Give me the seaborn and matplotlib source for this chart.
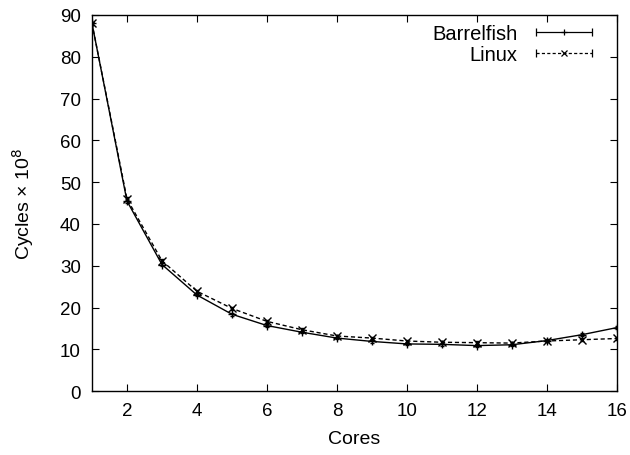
import matplotlib
matplotlib.use("Agg")
import matplotlib.pyplot as plt
from matplotlib.lines import Line2D
import seaborn as sns
import pandas as pd

# values (cycles x 10^8)
cores = list(range(1, 17))
barrelfish = [88.0, 45.5, 30.3, 23.0, 18.4, 15.7, 14.1, 12.7, 11.9, 11.3, 11.2, 10.9, 11.1, 12.1, 13.5, 15.2]
linux = [88.0, 46.0, 31.2, 23.9, 19.8, 16.7, 14.7, 13.2, 12.7, 12.0, 11.7, 11.6, 11.5, 12.0, 12.3, 12.6]
barrelfish_err = [0.4, 0.4, 0.3, 0.3, 0.3, 0.3, 0.3, 0.3, 0.3, 0.3, 0.3, 0.3, 0.3, 0.3, 0.3, 0.3]
linux_err = [0.4, 0.4, 0.3, 0.3, 0.3, 0.3, 0.3, 0.3, 0.3, 0.3, 0.3, 0.3, 0.3, 0.3, 0.3, 0.3]

df = pd.DataFrame({
    "Cores": cores * 2,
    "Cycles": barrelfish + linux,
    "OS": ["Barrelfish"] * 16 + ["Linux"] * 16,
})

sns.set_style("ticks")
plt.rcParams["font.family"] = ["Liberation Sans", "DejaVu Sans"]
plt.rcParams["xtick.direction"] = "in"
plt.rcParams["ytick.direction"] = "in"
for k in ["text.color", "axes.labelcolor", "xtick.color", "ytick.color", "axes.edgecolor"]:
    plt.rcParams[k] = "black"


class KeyHandler:
    # gnuplot-like key sample: |----marker----|
    def __init__(self, marker, dashes):
        self.marker = marker
        self.dashes = dashes

    def legend_artist(self, legend, orig_handle, fontsize, handlebox):
        x0, y0 = handlebox.xdescent, handlebox.ydescent
        w, h = handlebox.width, handlebox.height
        ym = y0 + h / 2
        ln = Line2D([x0, x0 + w], [ym, ym], color="black", lw=0.9)
        if self.dashes:
            ln.set_dashes(self.dashes)
        caps = Line2D([x0, x0 + w], [ym, ym], ls="none", marker="|",
                      markersize=6, mew=0.9, color="black")
        mk = Line2D([x0 + w / 2], [ym], ls="none", marker=self.marker,
                    markersize=5, mew=0.9, color="black")
        for a in (ln, caps, mk):
            a.set_transform(handlebox.get_transform())
            handlebox.add_artist(a)
        return ln


fig = plt.figure(figsize=(6.3, 4.56), dpi=100)
ax = fig.add_axes([0.146, 0.140, 0.833, 0.825])

sns.lineplot(data=df, x="Cores", y="Cycles", style="OS",
             markers={"Barrelfish": "+", "Linux": "x"},
             dashes={"Barrelfish": "", "Linux": (3, 2)},
             color="black", linewidth=1.0, markersize=6,
             markeredgewidth=1.0, markeredgecolor="black",
             ax=ax, legend=False)

ax.errorbar(cores, barrelfish, yerr=barrelfish_err, fmt="none",
            ecolor="black", elinewidth=0.8, capsize=1.5)
ax.errorbar(cores, linux, yerr=linux_err, fmt="none",
            ecolor="black", elinewidth=0.8, capsize=1.5)

k1, k2 = object(), object()
ax.legend([k1, k2], ["Barrelfish", "Linux"], loc="upper right",
          bbox_to_anchor=(0.968, 0.998), borderaxespad=0,
          handler_map={k1: KeyHandler("+", None), k2: KeyHandler("x", (2.5, 1.8))},
          frameon=False, markerfirst=False, fontsize=14.5,
          handlelength=2.8, labelspacing=0.12, handletextpad=0.9)

ax.set_xlim(1, 16)
ax.set_ylim(0, 90)
ax.set_xticks(range(2, 17, 2))
ax.set_yticks(range(0, 91, 10))
ax.tick_params(axis="both", labelsize=13.5, top=True, right=True,
               length=5, width=0.8, pad=8)
for s in ax.spines.values():
    s.set_linewidth(1.0)

ax.set_xlabel("Cores", fontsize=14, labelpad=8)
ax.set_ylabel("Cycles \u00d7 10$^8$", fontsize=14, labelpad=17)

fig.savefig("out.png", dpi=100)
